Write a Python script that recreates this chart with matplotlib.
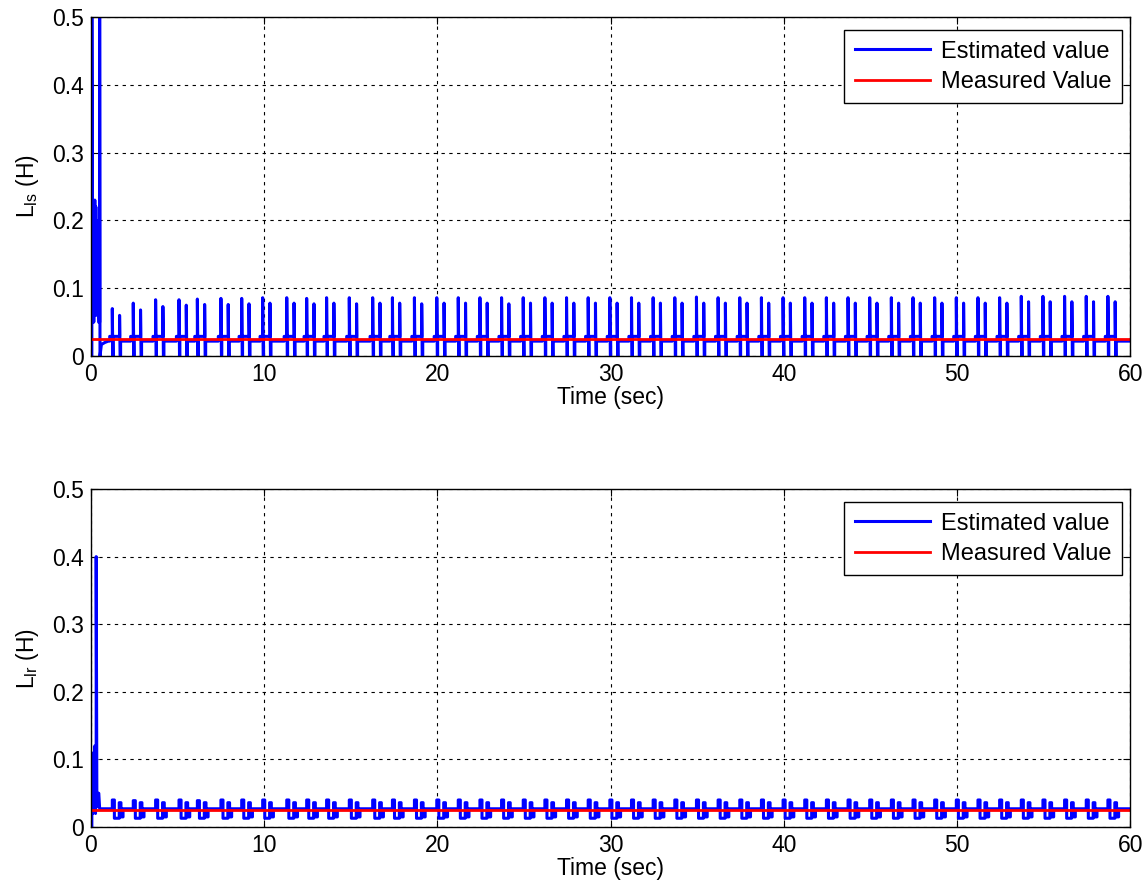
import numpy as np
import matplotlib
matplotlib.use('Agg')
import matplotlib.pyplot as plt

plt.rcParams['font.family'] = ['Liberation Sans', 'DejaVu Sans']
plt.rcParams['mathtext.fontset'] = 'custom'
plt.rcParams['mathtext.rm'] = 'Liberation Sans'
plt.rcParams['mathtext.it'] = 'Liberation Sans'
plt.rcParams['mathtext.default'] = 'regular'

# pulse pair times (s)
pulse_t = [1.23, 2.44, 3.73, 5.08, 6.14, 7.50, 8.70, 9.91, 11.30, 12.45,
           13.60, 14.91, 16.26, 17.40, 18.67, 19.96, 21.20, 22.45, 23.70, 24.95,
           26.20, 27.45, 28.70, 29.95, 31.20, 32.45, 33.70, 34.95, 36.20, 37.45,
           38.70, 39.95, 41.20, 42.45, 43.70, 44.95, 46.20, 47.45, 48.70, 49.95,
           51.20, 52.45, 53.70, 54.95, 56.20, 57.45, 58.70]
# top panel: first / second spike heights of each pair
ls_h1 = [0.070, 0.078, 0.083, 0.083, 0.084, 0.085, 0.085, 0.086, 0.086, 0.085,
         0.086, 0.086, 0.086, 0.086, 0.086, 0.086, 0.086, 0.086, 0.086, 0.086,
         0.086, 0.086, 0.086, 0.086, 0.086, 0.086, 0.086, 0.087, 0.086, 0.086,
         0.086, 0.086, 0.086, 0.086, 0.086, 0.086, 0.086, 0.086, 0.086, 0.086,
         0.086, 0.086, 0.088, 0.088, 0.088, 0.088, 0.088]
ls_h2 = [0.060, 0.068, 0.073, 0.075, 0.076, 0.076, 0.077, 0.078, 0.078, 0.077,
         0.078, 0.077, 0.078, 0.078, 0.077, 0.078, 0.078, 0.078, 0.077, 0.078,
         0.078, 0.078, 0.078, 0.078, 0.078, 0.078, 0.078, 0.078, 0.078, 0.078,
         0.078, 0.078, 0.078, 0.078, 0.078, 0.078, 0.078, 0.078, 0.078, 0.078,
         0.078, 0.078, 0.080, 0.080, 0.080, 0.080, 0.080]
# bottom panel: pulse top values
lr_h = [0.040, 0.039, 0.040, 0.040, 0.039, 0.040, 0.040, 0.040, 0.040, 0.040,
        0.040, 0.040, 0.040, 0.040, 0.040, 0.040, 0.040, 0.040, 0.040, 0.040,
        0.040, 0.040, 0.040, 0.040, 0.040, 0.040, 0.040, 0.040, 0.040, 0.040,
        0.040, 0.040, 0.040, 0.040, 0.040, 0.040, 0.040, 0.040, 0.040, 0.040,
        0.040, 0.040, 0.040, 0.040, 0.040, 0.040, 0.040]

# start-up transients (time, value)
ls_init_t = [0.0, 0.05, 0.05, 0.10, 0.13, 0.16, 0.20, 0.22, 0.25, 0.28, 0.31, 0.34, 0.37, 0.40, 0.44, 0.50, 0.50, 0.52, 0.60, 0.80, 1.00]
ls_init_v = [0.0, 0.0, 0.5, 0.05, 0.13, 0.05, 0.12, 0.23, 0.06, 0.22, 0.07, 0.20, 0.06, 0.12, 0.05, 0.05, 0.5, 0.0, 0.017, 0.020, 0.022]
lr_init_t = [0.0, 0.05, 0.05, 0.10, 0.14, 0.18, 0.22, 0.26, 0.30, 0.30, 0.34, 0.38, 0.45, 0.50, 0.70, 1.00]
lr_init_v = [0.0, 0.0, 0.10, 0.02, 0.11, 0.03, 0.12, 0.02, 0.10, 0.40, 0.03, 0.05, 0.05, 0.027, 0.027, 0.027]

measured_ls = 0.025
measured_lr = 0.025
t_end = 60


def ls_wave():
    t = list(ls_init_t)
    v = list(ls_init_v)
    for tk, a, b in zip(pulse_t, ls_h1, ls_h2):
        t += [tk - 0.15, tk - 0.15, tk, tk, tk + 0.03, tk + 0.05, tk + 0.05,
              tk + 0.42, tk + 0.42, tk + 0.45, tk + 0.48, tk + 0.48]
        v += [0.022, 0.029, 0.029, a, 0.0, 0.0, 0.029,
              0.029, b, 0.0, 0.0, 0.022]
    t.append(t_end)
    v.append(0.022)
    return t, v


def lr_wave():
    t = list(lr_init_t)
    v = list(lr_init_v)
    for tk, a in zip(pulse_t, lr_h):
        t += [tk, tk, tk + 0.12, tk + 0.12, tk + 0.4, tk + 0.4, tk + 0.5, tk + 0.5,
              tk + 0.62, tk + 0.62]
        v += [0.027, a, a, 0.013, 0.013, 0.036, 0.036, 0.015, 0.015, 0.027]
    t.append(t_end)
    v.append(0.027)
    return t, v


fig = plt.figure(figsize=(11.46, 8.91), dpi=100)
ax1 = fig.add_axes([0.0794, 0.6004, 0.907, 0.3805])
ax2 = fig.add_axes([0.0794, 0.0718, 0.907, 0.3793])

panels = [(ax1, ls_wave(), measured_ls, r'L$_{ls}$ (H)'),
          (ax2, lr_wave(), measured_lr, r'L$_{lr}$ (H)')]

for ax, (tt, vv), meas, lab in panels:
    ax.plot(tt, vv, color='#0000ff', lw=2.2, label='Estimated value')
    ax.plot([0, t_end], [meas, meas], color='#ff0000', lw=2.0, label='Measured Value')
    ax.set_xlim(0, 60)
    ax.set_ylim(0, 0.5)
    ax.set_xticks([0, 10, 20, 30, 40, 50, 60])
    ax.set_yticks([0, 0.1, 0.2, 0.3, 0.4, 0.5])
    ax.set_yticklabels(['0', '0.1', '0.2', '0.3', '0.4', '0.5'])
    ax.grid(True, color='black', linestyle=(0, (3, 4)), lw=0.8)
    ax.tick_params(direction='in', top=True, right=True, labelsize=16.5, length=5, pad=5)
    ax.set_xlabel('Time (sec)', fontsize=16.5, labelpad=0)
    ax.set_ylabel(lab, fontsize=16.5, labelpad=8)
    for s in ax.spines.values():
        s.set_linewidth(1.0)
    leg = ax.legend(loc='upper right', bbox_to_anchor=(0.992, 0.962), fontsize=17,
                    handlelength=3.2, fancybox=False, framealpha=1, borderaxespad=0,
                    handletextpad=0.45, labelspacing=0.35, borderpad=0.45)
    leg.get_frame().set_edgecolor('black')
    leg.get_frame().set_linewidth(1.0)

fig.savefig('out.png', dpi=100)
